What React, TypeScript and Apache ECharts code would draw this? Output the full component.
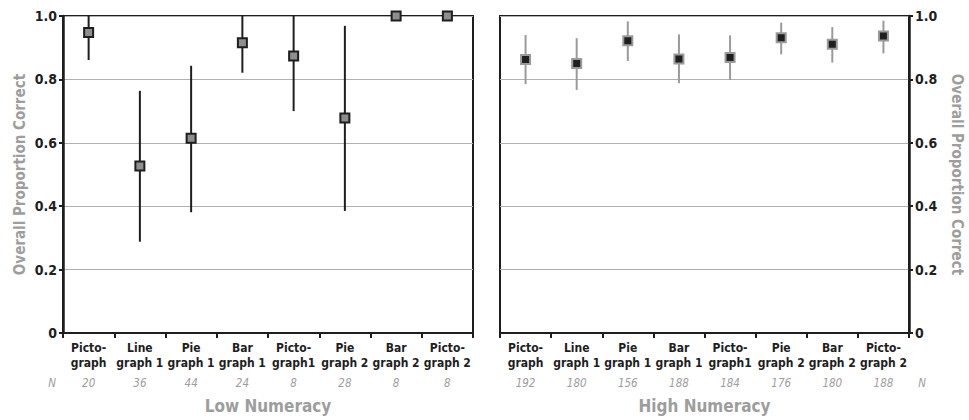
import React, { useEffect, useRef } from "react";
import * as echarts from "echarts";

const categories = [
  "Picto-\ngraph",
  "Line\ngraph 1",
  "Pie\ngraph 1",
  "Bar\ngraph 1",
  "Picto-\ngraph1",
  "Pie\ngraph 2",
  "Bar\ngraph 2",
  "Picto-\ngraph 2",
];
const lowMean = [0.948, 0.527, 0.614, 0.916, 0.874, 0.678, 1.0, 1.0];
const lowLower = [0.861, 0.288, 0.381, 0.821, 0.7, 0.385, 1.0, 1.0];
const lowUpper = [1.0, 0.764, 0.843, 1.0, 1.0, 0.969, 1.0, 1.0];
const lowN = [20, 36, 44, 24, 8, 28, 8, 8];
const highMean = [0.863, 0.85, 0.922, 0.864, 0.869, 0.931, 0.911, 0.937];
const highLower = [0.785, 0.767, 0.858, 0.788, 0.798, 0.879, 0.853, 0.882];
const highUpper = [0.94, 0.93, 0.983, 0.942, 0.939, 0.979, 0.965, 0.985];
const highN = [192, 180, 156, 188, 184, 176, 180, 188];
const panelTitles = ["Low Numeracy", "High Numeracy"];
const yAxisTitle = "Overall Proportion Correct";

const FONT = "'Liberation Sans Narrow', 'DejaVu Sans Condensed', sans-serif";
const GRAY = "#9d9d9d";
const DARK = "#1e1e1e";

function makeXAxis(gridIndex: number, nArr: number[], title: string) {
  return {
    type: "category",
    gridIndex,
    data: categories,
    boundaryGap: true,
    name: title,
    nameLocation: "middle",
    nameGap: 64,
    nameTextStyle: { fontFamily: FONT, fontWeight: "bold", fontSize: 17, color: GRAY },
    axisLine: { show: true, lineStyle: { color: DARK, width: 2 } },
    axisTick: { show: true, length: 5, lineStyle: { color: DARK, width: 2 } },
    axisLabel: {
      interval: 0,
      margin: 7,
      formatter: (value: string, index: number) => {
        const parts = value.split("\n");
        return `{b|${parts[0]}}\n{b|${parts[1]}}\n{n|${nArr[index]}}`;
      },
      rich: {
        b: { fontFamily: FONT, fontWeight: "bold", fontSize: 12, lineHeight: 15, color: DARK },
        n: { fontFamily: FONT, fontStyle: "italic", fontSize: 11.5, lineHeight: 25, color: GRAY },
      },
    },
    splitLine: { show: false },
  };
}

function makeYAxis(gridIndex: number, position: string) {
  return {
    type: "value",
    gridIndex,
    position,
    min: 0,
    max: 1,
    interval: 0.2,
    name: yAxisTitle,
    nameLocation: "middle",
    nameRotate: position === "left" ? 90 : -90,
    nameGap: position === "left" ? 36 : 40,
    nameTextStyle: { fontFamily: FONT, fontWeight: "bold", fontSize: 15, color: GRAY },
    axisLine: { show: true, lineStyle: { color: DARK, width: 2.5 } },
    axisTick: { show: true, length: 4, lineStyle: { color: DARK, width: 2 } },
    axisLabel: {
      margin: 6,
      fontFamily: FONT,
      fontWeight: "bold",
      fontSize: 14,
      color: DARK,
      formatter: (v: number) => (v === 0 ? "0" : v.toFixed(1)),
    },
    splitLine: { show: true, lineStyle: { color: "#b0b0b0", width: 1 } },
  };
}

function errorSeries(idx: number, lower: number[], upper: number[], color: string) {
  return {
    type: "custom",
    xAxisIndex: idx,
    yAxisIndex: idx,
    clip: false,
    z: 3,
    encode: { x: 0, y: [1, 2] },
    data: lower.map((l, i) => [i, l, upper[i]]),
    renderItem: (params: any, api: any) => {
      const x = api.value(0);
      const lo = api.coord([x, api.value(1)]);
      const hi = api.coord([x, api.value(2)]);
      return {
        type: "line",
        shape: { x1: lo[0], y1: lo[1], x2: hi[0], y2: hi[1] },
        style: { stroke: color, lineWidth: 2 },
      };
    },
  };
}

function markerSeries(idx: number, mean: number[], fill: string, border: string) {
  return {
    type: "scatter",
    xAxisIndex: idx,
    yAxisIndex: idx,
    clip: false,
    z: 5,
    symbol: "rect",
    symbolSize: 9,
    itemStyle: { color: fill, borderColor: border, borderWidth: 2, opacity: 1 },
    data: mean.map((v, i) => [i, v]),
  };
}

export default function App() {
  const ref = useRef<HTMLDivElement>(null);
  useEffect(() => {
    if (!ref.current) return;
    const chart = echarts.init(ref.current, undefined, { renderer: "svg" });
    chart.setOption({
      animation: false,
      backgroundColor: "#ffffff",
      grid: [
        { left: 63, top: 16, width: 410, height: 317, show: true, borderColor: DARK, borderWidth: 2, backgroundColor: "transparent", containLabel: false, outerBoundsMode: "none" },
        { left: 500, top: 16, width: 409, height: 317, show: true, borderColor: DARK, borderWidth: 2, backgroundColor: "transparent", containLabel: false, outerBoundsMode: "none" },
      ],
      xAxis: [makeXAxis(0, lowN, panelTitles[0]), makeXAxis(1, highN, panelTitles[1])],
      yAxis: [makeYAxis(0, "left"), makeYAxis(1, "right")],
      graphic: [
        {
          type: "text",
          x: 52,
          y: 383,
          style: { text: "N", fontFamily: FONT, fontStyle: "italic", fontSize: 11.5, fill: GRAY, align: "center", verticalAlign: "middle" },
        },
        {
          type: "text",
          x: 922,
          y: 383,
          style: { text: "N", fontFamily: FONT, fontStyle: "italic", fontSize: 11.5, fill: GRAY, align: "center", verticalAlign: "middle" },
        },
      ],
      series: [
        errorSeries(0, lowLower, lowUpper, DARK),
        markerSeries(0, lowMean, "#8e8e8e", DARK),
        errorSeries(1, highLower, highUpper, "#9a9a9a"),
        markerSeries(1, highMean, "#1f1f1f", "#9a9a9a"),
      ],
    });
    return () => chart.dispose();
  }, []);
  return <div ref={ref} style={{ position: "fixed", left: 0, top: 0, width: 969, height: 420 }} />;
}
